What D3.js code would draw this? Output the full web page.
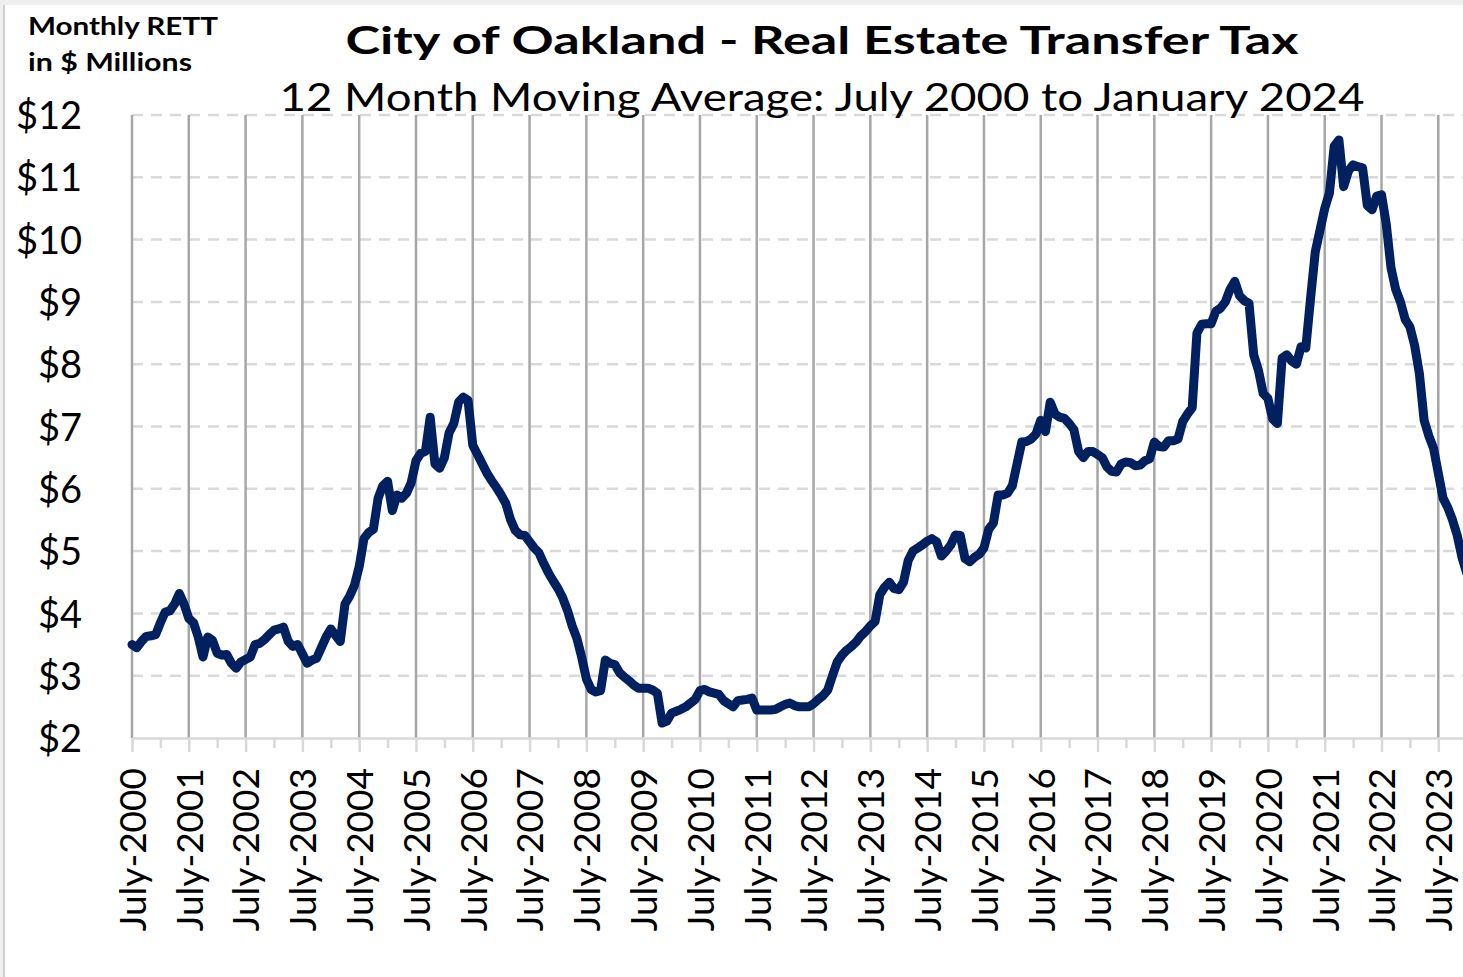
<!DOCTYPE html>
<html>
<head>
<meta charset="utf-8">
<script src="https://cdn.jsdelivr.net/npm/d3@7"></script>
<style>
  body { margin: 0; background: #fff; }
  svg { display: block; font-family: Lato, "Open Sans", sans-serif; }
</style>
</head>
<body>
<svg id="chart"></svg>
<script>
// Monthly 12-month moving average of RETT, $ millions, July 2000 .. January 2024
const startMonth = new Date(2000, 6, 1);
const rett = [
    3.50, 3.45, 3.55, 3.63, 3.64, 3.66, 3.85, 4.02, 4.04, 4.15, 4.32, 4.15, 3.92,
    3.85, 3.62, 3.30, 3.62, 3.57, 3.36, 3.33, 3.34, 3.20, 3.12, 3.22, 3.26,
    3.30, 3.50, 3.52, 3.58, 3.66, 3.73, 3.75, 3.78, 3.55, 3.47, 3.50, 3.35,
    3.20, 3.25, 3.28, 3.45, 3.62, 3.75, 3.65, 3.55, 4.15, 4.28, 4.45, 4.75,
    5.20, 5.30, 5.35, 5.85, 6.05, 6.12, 5.65, 5.90, 5.85, 5.93, 6.10, 6.45,
    6.57, 6.60, 7.15, 6.40, 6.33, 6.50, 6.90, 7.05, 7.39, 7.47, 7.42, 6.70,
    6.55, 6.40, 6.25, 6.13, 6.02, 5.90, 5.76, 5.50, 5.33, 5.26, 5.25, 5.15,
    5.05, 4.97, 4.80, 4.65, 4.52, 4.40, 4.25, 4.05, 3.80, 3.60, 3.30, 2.95,
    2.78, 2.74, 2.76, 3.25, 3.20, 3.18, 3.05, 2.98, 2.92, 2.85, 2.80, 2.80,
    2.80, 2.77, 2.72, 2.24, 2.27, 2.40, 2.43, 2.46, 2.50, 2.56, 2.62, 2.76,
    2.78, 2.74, 2.72, 2.70, 2.60, 2.55, 2.50, 2.60, 2.61, 2.62, 2.64, 2.45,
    2.45, 2.45, 2.45, 2.46, 2.50, 2.54, 2.56, 2.52, 2.50, 2.50, 2.50, 2.55,
    2.62, 2.68, 2.77, 3.00, 3.22, 3.33, 3.41, 3.47, 3.54, 3.64, 3.71, 3.80,
    3.87, 4.30, 4.42, 4.50, 4.40, 4.38, 4.50, 4.85, 5.00, 5.05, 5.10, 5.16,
    5.20, 5.15, 4.92, 5.00, 5.10, 5.26, 5.25, 4.88, 4.83, 4.90, 4.95, 5.05,
    5.35, 5.45, 5.90, 5.90, 5.93, 6.05, 6.40, 6.75, 6.76, 6.80, 6.88, 7.10,
    6.92, 7.39, 7.20, 7.15, 7.13, 7.05, 6.95, 6.60, 6.50, 6.60, 6.60, 6.55,
    6.50, 6.35, 6.28, 6.27, 6.40, 6.43, 6.42, 6.37, 6.38, 6.45, 6.48, 6.75,
    6.68, 6.67, 6.77, 6.77, 6.80, 7.08, 7.20, 7.30, 8.50, 8.64, 8.65, 8.65,
    8.85, 8.90, 9.00, 9.20, 9.33, 9.10, 9.02, 8.98, 8.15, 7.90, 7.53, 7.45,
    7.12, 7.05, 8.10, 8.15, 8.05, 8.00, 8.28, 8.26, 9.05, 9.80, 10.15, 10.50,
    10.75, 11.50, 11.60, 10.85, 11.10, 11.20, 11.17, 11.15, 10.55, 10.48, 10.70, 10.72,
    10.25, 9.55, 9.20, 9.00, 8.72, 8.60, 8.30, 7.85, 7.10, 6.85, 6.65, 6.25,
    5.85, 5.70, 5.50, 5.25, 4.90, 4.65
];
const yTicks = [2, 3, 4, 5, 6, 7, 8, 9, 10, 11, 12];
const tickYears = d3.range(2000, 2024);

const titleText = 'City of Oakland - Real Estate Transfer Tax';
const subtitleText = '12 Month Moving Average: July 2000 to January 2024';
const unitLines = ['Monthly RETT', 'in $ Millions'];

// one entry per month
const months = rett.map((v, i) => d3.timeMonth.offset(startMonth, i));
const data = rett.map((v, i) => ({m: i, date: months[i], value: v}));

const width = 1463, height = 977;
const plotLeft = 132, plotTop = 115, plotBottom = 738;
const monthStep = 4.733;
const font = 'Lato, "Open Sans", sans-serif';

let svg = d3.select('#chart')
    .attr('width', width)
    .attr('height', height);

// window frame bits
svg.append('rect').attr('width', width).attr('height', 5).attr('fill', '#efefef');
svg.append('rect').attr('width', 3).attr('height', height).attr('fill', '#efefef');
svg.append('line').attr('x1', 4).attr('x2', 4).attr('y1', 5).attr('y2', height)
    .attr('stroke', '#d0d0d0').attr('stroke-width', 2);

// scales (month index on x, equal spacing like a category axis)
let x = d3.scaleLinear()
    .domain([0, rett.length - 1])
    .range([plotLeft, plotLeft + (rett.length - 1) * monthStep]);

let y = d3.scaleLinear()
    .domain([2, 12])
    .range([plotBottom, plotTop]);

const julyIdx = tickYears.map(yr => d3.timeMonth.count(startMonth, new Date(yr, 6, 1)));
const janIdx = tickYears.map(yr => d3.timeMonth.count(startMonth, new Date(yr + 1, 0, 1)));

// horizontal dashed gridlines
svg.append('g')
    .selectAll('line')
    .data(yTicks.slice(1))
    .enter()
    .append('line')
    .attr('x1', plotLeft).attr('x2', width)
    .attr('y1', d => y(d)).attr('y2', d => y(d))
    .attr('stroke', '#d9d9d9')
    .attr('stroke-width', 2.5)
    .attr('stroke-dasharray', '11,8');

// vertical gridlines at each July
svg.append('g')
    .selectAll('line')
    .data(julyIdx)
    .enter()
    .append('line')
    .attr('x1', d => x(d)).attr('x2', d => x(d))
    .attr('y1', plotTop).attr('y2', plotBottom)
    .attr('stroke', '#a6a6a6')
    .attr('stroke-width', 2.5);

// minor ticks at January
svg.append('g')
    .attr('transform', 'translate(0,' + plotBottom + ')')
    .call(d3.axisBottom(x).tickValues(janIdx).tickSize(10).tickFormat(''))
    .call(g => g.select('.domain').remove())
    .call(g => g.selectAll('line').attr('stroke', '#d9d9d9').attr('stroke-width', 2.5));

// x axis with July labels
let xAxis = svg.append('g')
    .attr('transform', 'translate(0,' + plotBottom + ')')
    .call(d3.axisBottom(x)
        .tickValues(julyIdx)
        .tickSize(14)
        .tickSizeOuter(0)
        .tickFormat((d, i) => 'July-' + tickYears[i]))
    .attr('font-family', font);

xAxis.select('.domain')
    .attr('stroke', '#d9d9d9')
    .attr('stroke-width', 2.5);
xAxis.selectAll('line')
    .attr('stroke', '#d9d9d9')
    .attr('stroke-width', 2.5);
xAxis.selectAll('text')
    .attr('transform', 'rotate(-90)')
    .attr('x', -30)
    .attr('y', 0)
    .attr('dy', '0.36em')
    .attr('text-anchor', 'end')
    .attr('fill', '#000')
    .style('font-size', '37px');

// y axis labels
let yAxis = svg.append('g')
    .attr('transform', 'translate(' + plotLeft + ',0)')
    .call(d3.axisLeft(y)
        .tickValues(yTicks)
        .tickSize(0)
        .tickPadding(50)
        .tickFormat(d => '$' + d))
    .attr('font-family', font);
yAxis.select('.domain').remove();
yAxis.selectAll('text')
    .attr('fill', '#000')
    .attr('dy', '0.36em')
    .style('font-size', '38px');

// the line
let line = d3.line()
    .x(d => x(d.m))
    .y(d => y(d.value));

svg.append('path')
    .datum(data)
    .attr('d', line)
    .attr('fill', 'none')
    .attr('stroke', '#002060')
    .attr('stroke-width', 9)
    .attr('stroke-linejoin', 'round')
    .attr('stroke-linecap', 'round');

// titles
svg.append('text')
    .attr('x', 822).attr('y', 54)
    .attr('text-anchor', 'middle')
    .attr('font-weight', 'bold')
    .attr('font-size', 38)
    .attr('textLength', 953)
    .attr('lengthAdjust', 'spacingAndGlyphs')
    .text(titleText);

svg.append('text')
    .attr('x', 822).attr('y', 111)
    .attr('text-anchor', 'middle')
    .attr('font-size', 39)
    .attr('textLength', 1085)
    .attr('lengthAdjust', 'spacingAndGlyphs')
    .text(subtitleText);

svg.selectAll('.unit')
    .data(unitLines)
    .enter()
    .append('text')
    .attr('class', 'unit')
    .attr('x', 28)
    .attr('y', (d, i) => 35 + i * 36)
    .attr('font-weight', 'bold')
    .attr('font-size', 24)
    .attr('textLength', (d, i) => i === 0 ? 190 : 164)
    .attr('lengthAdjust', 'spacingAndGlyphs')
    .text(d => d);
</script>
</body>
</html>
